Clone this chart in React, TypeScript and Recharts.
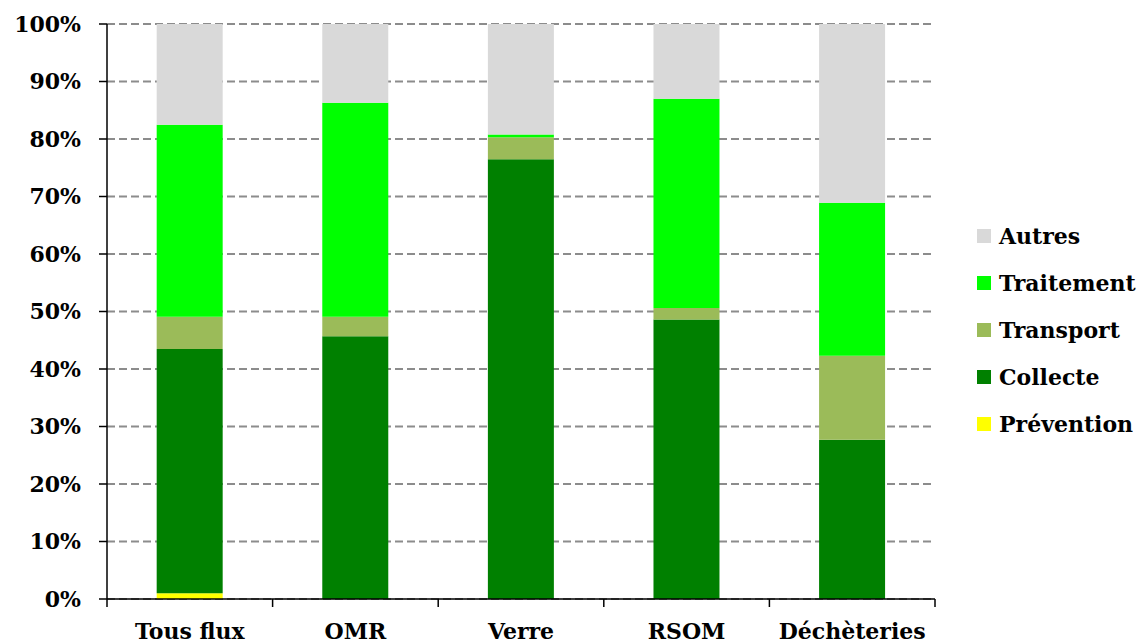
import { BarChart, Bar, XAxis, YAxis, CartesianGrid } from 'recharts'

// Répartition des coûts par flux (en % du total)
const categories = ['Tous flux', 'OMR', 'Verre', 'RSOM', 'Déchèteries']
const prevention = [1.0, 0, 0, 0, 0]
const collecte = [42.5, 45.7, 76.5, 48.6, 27.7]
const transport = [5.6, 3.4, 3.8, 2.0, 14.6]
const traitement = [33.4, 37.2, 0.5, 36.4, 26.6]
const autres = [17.5, 13.7, 19.2, 13.0, 31.1]
const yTicks = [0, 10, 20, 30, 40, 50, 60, 70, 80, 90, 100]

const SERIES = [
  { key: 'prevention', label: 'Prévention', color: '#ffff00', values: prevention },
  { key: 'collecte', label: 'Collecte', color: '#008000', values: collecte },
  { key: 'transport', label: 'Transport', color: '#9bbb59', values: transport },
  { key: 'traitement', label: 'Traitement', color: '#00ff00', values: traitement },
  { key: 'autres', label: 'Autres', color: '#d9d9d9', values: autres },
]

const data = categories.map((name, i) => {
  const row: Record<string, string | number> = { name }
  SERIES.forEach((s) => {
    row[s.key] = s.values[i]
  })
  return row
})

const FONT = "'DejaVu Serif', serif"

function CategoryTick(props: any) {
  const { x, y, payload, index } = props
  const half = payload?.offset ?? 82.8
  const last = index === categories.length - 1
  return (
    <g>
      <line x1={x - half} y1={y} x2={x - half} y2={y + 8} stroke="#000" strokeWidth={1.5} />
      {last && <line x1={x + half} y1={y} x2={x + half} y2={y + 8} stroke="#000" strokeWidth={1.5} />}
      <text
        x={x}
        y={y + 40}
        textAnchor="middle"
        fontFamily={FONT}
        fontWeight="bold"
        fontSize={22}
        fill="#000"
      >
        {payload.value}
      </text>
    </g>
  )
}

export default function App() {
  return (
    <div style={{ position: 'fixed', left: 0, top: 0, width: 1142, height: 644, background: '#fff' }}>
      <BarChart
        width={1142}
        height={644}
        data={data}
        margin={{ top: 24, right: 207, left: 0, bottom: 0 }}
        barCategoryGap="30%"
      >
        <CartesianGrid vertical={false} stroke="#8c8c8c" strokeWidth={2} strokeDasharray="8 4" />
        <XAxis
          dataKey="name"
          height={45}
          interval={0}
          axisLine={{ stroke: '#000', strokeWidth: 1.5 }}
          tickLine={false}
          tickSize={0}
          tickMargin={0}
          tick={<CategoryTick />}
        />
        <YAxis
          width={107}
          domain={[0, 100]}
          ticks={yTicks}
          tickFormatter={(v) => `${v}%`}
          axisLine={{ stroke: '#000', strokeWidth: 1.5 }}
          tickLine={{ stroke: '#000', strokeWidth: 1.5 }}
          tickSize={8}
          tickMargin={18}
          tick={{ fontFamily: FONT, fontWeight: 'bold', fontSize: 22, fill: '#000' }}
        />
        {SERIES.map((s) => (
          <Bar key={s.key} dataKey={s.key} name={s.label} stackId="a" fill={s.color} isAnimationActive={false} />
        ))}
      </BarChart>
      <div style={{ position: 'absolute', left: 977, top: 212, fontFamily: FONT }}>
        {[...SERIES].reverse().map((s) => (
          <div key={s.key} style={{ display: 'flex', alignItems: 'center', height: 47 }}>
            <span style={{ width: 14, height: 14, background: s.color, marginRight: 8, display: 'inline-block' }} />
            <span style={{ fontSize: 22, fontWeight: 'bold', color: '#000' }}>{s.label}</span>
          </div>
        ))}
      </div>
    </div>
  )
}
